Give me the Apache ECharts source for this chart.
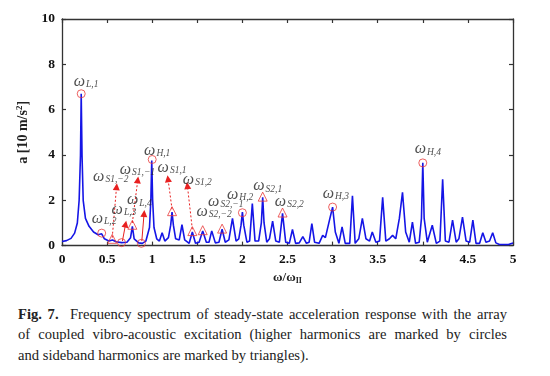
<!DOCTYPE html>
<html><head><meta charset="utf-8">
<script src="https://cdn.jsdelivr.net/npm/echarts@6/dist/echarts.min.js"></script>
<style>
html,body{margin:0;padding:0;background:#fff;}
#c{width:550px;height:290px;}
#cap{position:absolute;left:18px;top:304px;width:489px;font-family:"Liberation Serif","Times New Roman",serif;font-size:14.6px;line-height:20.3px;color:#222;}
#cap div{text-align:justify;text-align-last:justify;white-space:nowrap;}
#cap div.last{text-align-last:left;}
</style></head><body>
<div id="c"></div>
<div id="cap"><div><b>Fig. 7.</b>&nbsp; Frequency spectrum of steady-state acceleration response with the array</div><div>of coupled vibro-acoustic excitation (higher harmonics are marked by circles</div><div class="last">and sideband harmonics are marked by triangles).</div></div>
<script>
// spectrum trace: frequency ratio and amplitude
const traceX = [0,0.05,0.10,0.14,0.17,0.19,0.205,0.213,0.222,0.235,0.26,0.30,0.35,0.40,0.44,0.47,0.52,0.56,0.60,0.66,0.72,0.76,0.78,0.80,0.85,0.89,0.93,0.97,0.985,0.995,1.005,1.02,1.05,1.08,1.11,1.14,1.18,1.205,1.22,1.235,1.26,1.30,1.33,1.36,1.41,1.445,1.48,1.52,1.56,1.60,1.63,1.66,1.70,1.74,1.775,1.81,1.85,1.89,1.93,1.96,1.985,2.00,2.015,2.05,2.08,2.11,2.14,2.18,2.21,2.225,2.24,2.27,2.30,2.335,2.37,2.41,2.445,2.48,2.52,2.555,2.59,2.63,2.67,2.71,2.74,2.77,2.80,2.85,2.89,2.92,2.97,3.00,3.03,3.07,3.105,3.14,3.19,3.22,3.25,3.29,3.33,3.37,3.41,3.44,3.48,3.52,3.555,3.59,3.63,3.665,3.70,3.74,3.775,3.81,3.85,3.885,3.92,3.96,3.985,4.00,4.015,4.05,4.105,4.15,4.19,4.22,4.25,4.29,4.33,4.37,4.40,4.44,4.48,4.52,4.555,4.59,4.63,4.665,4.70,4.74,4.775,4.81,4.85,4.95,5.0];
const traceY = [0.18,0.22,0.32,0.55,1.0,2.0,4.0,6.7,4.0,2.0,1.2,0.85,0.6,0.48,0.52,0.3,0.2,0.25,0.17,0.13,0.15,0.35,0.85,0.3,0.12,0.1,0.2,0.8,2.0,3.75,2.0,0.8,0.3,0.2,0.57,0.2,0.35,0.9,1.48,0.9,0.3,0.25,0.92,0.25,0.1,0.6,0.1,0.15,0.65,0.15,0.15,0.65,0.12,0.15,0.72,0.15,0.25,1.2,0.2,0.3,0.9,1.48,0.9,0.15,0.2,1.85,0.2,0.2,1.0,2.13,1.0,0.15,0.3,1.08,0.2,0.15,1.42,0.15,0.1,0.71,0.1,0.12,0.4,0.1,0.15,0.97,0.15,0.1,0.45,0.35,1.2,1.7,0.6,0.1,0.83,0.1,0.1,2.2,0.1,0.3,1.2,0.3,0.2,0.6,0.15,0.2,2.13,0.2,0.3,0.45,0.3,1.2,2.35,0.6,0.15,1.04,0.1,0.15,1.2,3.65,1.2,0.15,0.9,0.1,0.2,2.93,0.2,0.15,1.12,0.15,0.3,1.26,0.2,0.15,1.12,0.1,0.1,0.57,0.15,0.2,0.57,0.12,0.05,0.05,0.12];

// higher harmonics (circles)
const circleX = [0.213,0.44,0.66,0.88,1.0,2.0,3.0,4.0];
const circleY = [6.7,0.55,0.13,0.1,3.8,1.45,1.7,3.65];
// sideband harmonics (triangles)
const triX = [0.557,0.78,1.22,1.445,1.56,1.775,2.225,2.445];
const triY = [0.3,0.92,1.52,0.64,0.68,0.75,2.16,1.46];

// annotation labels
const labelSub = ["L,1","L,2","S1,\u22122","L,3","S1,\u22121","L,4","H,1","S1,1","S1,2","S2,\u22121","S2,\u22122","H,2","S2,1","S2,2","H,3","H,4"];
const labelX = [0.13,0.33,0.345,0.55,0.64,0.72,0.91,1.06,1.34,1.62,1.49,1.83,2.12,2.36,2.89,3.91];
const labelY = [7.25,1.2,3.05,1.6,3.35,2.0,4.2,3.45,2.9,1.95,1.5,2.25,2.62,1.95,2.3,4.25];

// arrows: dotted (from marker to arrowhead)
const dotFromX = [0.557,0.78,1.22,1.445];
const dotFromY = [0.35,1.0,1.6,0.72];
const dotToX = [0.605,0.84,1.175,1.39];
const dotToY = [2.6,2.9,2.95,2.65];
// arrows: solid
const solFromX = [0.67,0.885];
const solFromY = [0.2,0.2];
const solToX = [0.705,0.91];
const solToY = [0.95,1.42];

const xTicks = [0,0.5,1,1.5,2,2.5,3,3.5,4,4.5,5];
const yTicks = [0,2,4,6,8,10];

const chart = echarts.init(document.getElementById('c'), null, {renderer:'canvas'});
const serif = '"Liberation Serif","Times New Roman",serif';
const axisCommon = {
  axisLine:{show:true,onZero:false,lineStyle:{color:'#333',width:1.3}},
  axisTick:{show:true,inside:true,length:4,lineStyle:{color:'#333',width:1.2}},
  splitLine:{show:false}
};
function zip(a,b){return a.map((v,i)=>[v,b[i]]);}
function lines(fx,fy,tx,ty){return fx.map((v,i)=>({coords:[[v,fy[i]],[tx[i],ty[i]]]}));}

chart.setOption({
  animation:false,
  grid:{left:62,right:37,top:19,bottom:41},
  xAxis:[
    Object.assign({type:'value',min:xTicks[0],max:xTicks[xTicks.length-1],interval:0.5,position:'bottom',
      name:'ω/ω{s|II}',nameLocation:'middle',nameGap:23,
      nameTextStyle:{fontFamily:serif,fontSize:13,fontWeight:'bold',color:'#222',rich:{s:{fontFamily:serif,fontSize:8,fontWeight:'bold',padding:[6,0,0,0]}}},
      axisLabel:{fontFamily:serif,fontSize:13.5,fontWeight:'bold',color:'#111',margin:7,
        formatter:v=>String(v)}},axisCommon),
    Object.assign({type:'value',min:0,max:5,interval:0.5,position:'top',axisLabel:{show:false}},axisCommon)
  ],
  yAxis:[
    Object.assign({type:'value',min:yTicks[0],max:yTicks[yTicks.length-1],interval:2,position:'left',
      name:'a [10 m/s{p|2}]',nameLocation:'middle',nameGap:30,
      nameTextStyle:{fontFamily:serif,fontSize:14,fontWeight:'bold',color:'#222',rich:{p:{fontFamily:serif,fontSize:9,fontWeight:'bold',padding:[0,0,7,0]}}},
      axisLabel:{fontFamily:serif,fontSize:13.5,fontWeight:'bold',color:'#111',margin:7}},axisCommon),
    Object.assign({type:'value',min:0,max:10,interval:2,position:'right',axisLabel:{show:false}},axisCommon)
  ],
  series:[
    {type:'line',data:zip(traceX,traceY),showSymbol:false,symbol:'none',smooth:false,
      lineStyle:{color:'#1515e6',width:1.6},z:2},
    {type:'scatter',data:zip(circleX,circleY),symbol:'circle',symbolSize:8,
      itemStyle:{color:'rgba(0,0,0,0)',borderColor:'#e83a3a',borderWidth:1},z:3},
    {type:'scatter',data:zip(triX,triY),symbol:'triangle',symbolSize:9,
      itemStyle:{color:'rgba(0,0,0,0)',borderColor:'#e83a3a',borderWidth:1},z:3},
    {type:'lines',coordinateSystem:'cartesian2d',polyline:false,
      data:lines(dotFromX,dotFromY,dotToX,dotToY),
      symbol:['none','triangle'],symbolSize:[0,7],
      lineStyle:{color:'#e82020',width:1,type:[2,2],opacity:1},z:4},
    {type:'lines',coordinateSystem:'cartesian2d',polyline:false,
      data:lines(solFromX,solFromY,solToX,solToY),
      symbol:['none','triangle'],symbolSize:[0,7],
      lineStyle:{color:'#e82020',width:1,type:'solid',opacity:1},z:4},
    {type:'scatter',data:labelX.map((v,i)=>[v,labelY[i],labelSub[i]]),symbolSize:0,silent:true,z:5,
      label:{show:true,position:'right',distance:0,
        formatter:p=>'{w|ω}{s|'+p.data[2]+'}',
        rich:{
          w:{fontFamily:serif,fontStyle:'italic',fontSize:16,color:'#222',verticalAlign:'bottom',lineHeight:16},
          s:{fontFamily:serif,fontStyle:'italic',fontSize:9.5,color:'#222',verticalAlign:'bottom',lineHeight:16,padding:[4,0,0,1]}
        }}}
  ]
});
</script>
</body></html>
